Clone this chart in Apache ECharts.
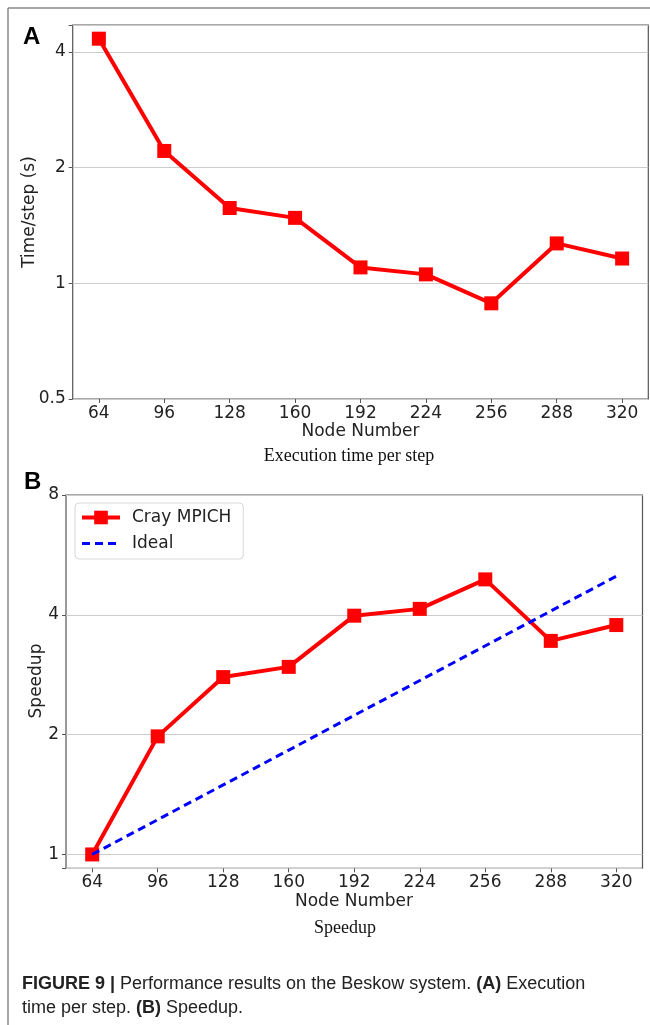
<!DOCTYPE html>
<html>
<head>
<meta charset="utf-8">
<script src="https://cdn.jsdelivr.net/npm/echarts@6.0.0/dist/echarts.min.js"></script>
<style>
  html, body { margin: 0; padding: 0; background: #fff; }
  #chart { width: 650px; height: 1025px; }
</style>
</head>
<body>
<div id="chart"></div>
<script>
// node counts on the x axis
const nodes = [64, 96, 128, 160, 192, 224, 256, 288, 320];
// (A) execution time per step, seconds
const timePerStep = [4.33, 2.21, 1.57, 1.48, 1.10, 1.055, 0.887, 1.27, 1.16];
// (B) speedup, Cray MPICH
const speedup = [1.0, 1.98, 2.79, 2.96, 3.98, 4.14, 4.91, 3.44, 3.77];
// (B) ideal line, two end points
const idealNodes = [64, 320];
const idealSpeedup = [1, 5];
// tick labels
const timeTicks = [0.5, 1, 2, 4];
const speedupTicks = [1, 2, 4, 8];

const tickFont = { fontFamily: 'DejaVu Sans', fontSize: 17, color: '#222' };
const spine = '#555';

function logLabel(ticks) {
  return function (v) {
    for (let t of ticks) {
      if (Math.abs(v - t) < 1e-6) return String(t);
    }
    return '';
  };
}

function xAxisFor(gridIndex) {
  return {
    type: 'value', gridIndex: gridIndex, min: 51.2, max: 332.8,
    axisLine: { show: false },
    axisTick: { show: true, length: 4, customValues: nodes, lineStyle: { color: spine } },
    axisLabel: Object.assign({ customValues: nodes, margin: 6 }, tickFont),
    splitLine: { show: false }
  };
}

function yAxisFor(gridIndex, min, max, ticks) {
  return {
    type: 'log', logBase: 2, gridIndex: gridIndex, min: min, max: max,
    axisLine: { show: false },
    axisTick: { show: true, length: 4, lineStyle: { color: spine } },
    axisLabel: Object.assign({ margin: 7, formatter: logLabel(ticks) }, tickFont),
    splitLine: { show: true, lineStyle: { color: '#cccccc', width: 1.2 } },
    minorTick: { show: false }
  };
}

const chart = echarts.init(document.getElementById('chart'), null, { renderer: 'canvas' });

const option = {
  backgroundColor: '#fff',
  animation: false,
  grid: [
    { left: 72.7, top: 25, width: 575.6, height: 374, show: true, borderColor: spine, borderWidth: 1.2, backgroundColor: 'transparent' },
    { left: 66, top: 495, width: 576.5, height: 373.3, show: true, borderColor: spine, borderWidth: 1.2, backgroundColor: 'transparent' }
  ],
  xAxis: [xAxisFor(0), xAxisFor(1)],
  yAxis: [
    yAxisFor(0, 0.5, 4.7, timeTicks),
    yAxisFor(1, 0.923, 8, speedupTicks)
  ],
  legend: {
    data: [
      { name: 'Cray MPICH', lineStyle: { width: 4 } },
      { name: 'Ideal', itemStyle: { opacity: 0 }, lineStyle: { width: 3 } }
    ],
    orient: 'vertical',
    left: 75, top: 503,
    padding: [6, 12, 7, 5],
    itemWidth: 38, itemHeight: 17, itemGap: 9,
    backgroundColor: '#fff',
    borderColor: '#d8d8d8', borderWidth: 1, borderRadius: 4,
    textStyle: { fontFamily: 'DejaVu Sans', fontSize: 17, color: '#222', padding: [0, 0, 0, 7] }
  },
  series: [
    {
      name: 'Time/step', type: 'line', xAxisIndex: 0, yAxisIndex: 0,
      data: nodes.map((n, i) => [n, timePerStep[i]]),
      symbol: 'rect', symbolSize: 14,
      lineStyle: { color: '#ff0000', width: 4 },
      itemStyle: { color: '#ff0000' }
    },
    {
      name: 'Cray MPICH', type: 'line', xAxisIndex: 1, yAxisIndex: 1,
      data: nodes.map((n, i) => [n, speedup[i]]),
      symbol: 'rect', symbolSize: 14,
      lineStyle: { color: '#ff0000', width: 4 },
      itemStyle: { color: '#ff0000' },
      z: 3
    },
    {
      name: 'Ideal', type: 'line', xAxisIndex: 1, yAxisIndex: 1,
      data: idealNodes.map((n, i) => [n, idealSpeedup[i]]),
      symbol: 'none',
      lineStyle: { color: '#0000ff', width: 3, type: [8, 5] },
      itemStyle: { color: '#0000ff' },
      z: 4
    }
  ],
  graphic: [
    // outer frame
    { type: 'line', shape: { x1: 8, y1: 8, x2: 650, y2: 8 }, style: { stroke: '#888', lineWidth: 1.5 } },
    { type: 'line', shape: { x1: 8, y1: 8, x2: 8, y2: 1025 }, style: { stroke: '#888', lineWidth: 1.5 } },
    // panel letters
    { type: 'text', style: { text: 'A', x: 23, y: 37, font: 'bold 24px "Liberation Sans"', fill: '#000', textVerticalAlign: 'middle' } },
    { type: 'text', style: { text: 'B', x: 24, y: 482, font: 'bold 24px "Liberation Sans"', fill: '#000', textVerticalAlign: 'middle' } },
    // axis titles
    { type: 'text', x: 30, y: 212, rotation: Math.PI / 2, style: { text: 'Time/step (s)', x: 0, y: 0, font: '17px "DejaVu Sans"', fill: '#222', textAlign: 'center', textVerticalAlign: 'middle' } },
    { type: 'text', style: { text: 'Node Number', x: 360.5, y: 432, font: '17px "DejaVu Sans"', fill: '#222', textAlign: 'center', textVerticalAlign: 'middle' } },
    { type: 'text', x: 37, y: 681, rotation: Math.PI / 2, style: { text: 'Speedup', x: 0, y: 0, font: '17px "DejaVu Sans"', fill: '#222', textAlign: 'center', textVerticalAlign: 'middle' } },
    { type: 'text', style: { text: 'Node Number', x: 354, y: 902, font: '17px "DejaVu Sans"', fill: '#222', textAlign: 'center', textVerticalAlign: 'middle' } },
    // sub captions
    { type: 'text', style: { text: 'Execution time per step', x: 349, y: 456, font: '18px "Liberation Serif"', fill: '#111', textAlign: 'center', textVerticalAlign: 'middle' } },
    { type: 'text', style: { text: 'Speedup', x: 345, y: 928, font: '18px "Liberation Serif"', fill: '#111', textAlign: 'center', textVerticalAlign: 'middle' } },
    // figure caption
    {
      type: 'text',
      style: {
        x: 22, y: 984, textVerticalAlign: 'middle',
        text: '{b|FIGURE 9 | }{n|Performance results on the Beskow system. }{b|(A)}{n| Execution}',
        rich: {
          b: { font: 'bold 18px "Liberation Sans"', fill: '#222' },
          n: { font: '18px "Liberation Sans"', fill: '#222' }
        }
      }
    },
    {
      type: 'text',
      style: {
        x: 22, y: 1008, textVerticalAlign: 'middle',
        text: '{n|time per step. }{b|(B)}{n| Speedup.}',
        rich: {
          b: { font: 'bold 18px "Liberation Sans"', fill: '#222' },
          n: { font: '18px "Liberation Sans"', fill: '#222' }
        }
      }
    }
  ]
};

chart.setOption(option);
</script>
</body>
</html>
